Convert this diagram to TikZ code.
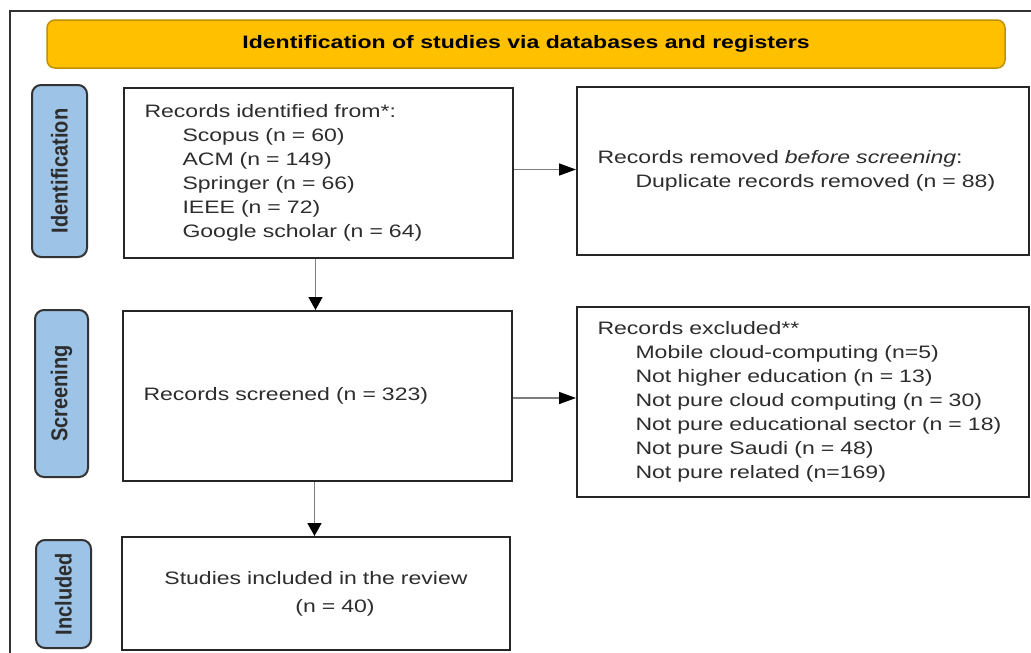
\documentclass[tikz,border=0pt]{standalone}
\usepackage{fontspec}
\usepackage{graphicx}
\setmainfont{Liberation Sans}[FakeStretch=1.28]
\newfontfamily\sidefont{Liberation Sans}
\usetikzlibrary{arrows.meta}
\definecolor{hdryellow}{RGB}{255,192,0}
\definecolor{hdrborder}{RGB}{190,145,0}
\definecolor{sideblue}{RGB}{157,195,230}
\definecolor{arrowgray}{RGB}{125,125,125}
\definecolor{inkgray}{RGB}{45,45,45}
\begin{document}
\begin{tikzpicture}[x=1pt,y=-1pt,
  box/.style={draw=black!85, line width=2pt, inner xsep=20.5pt, inner ysep=0pt,
    align=left, text=inkgray, font=\fontsize{18}{24}\selectfont},
  header/.style={draw=hdrborder, fill=hdryellow, line width=1.5pt, rounded corners=8pt,
    minimum width=958pt, minimum height=48pt, inner sep=0pt,
    font=\bfseries\fontsize{18}{22}\selectfont},
  sidebox/.style={draw=black!80, line width=2pt, fill=sideblue, rounded corners=9pt,
    rotate=90, inner sep=0pt, text=inkgray,
    font=\sidefont\bfseries\fontsize{20}{24}\selectfont},
  hflow/.style={draw=arrowgray, line width=1.5pt,
    -{Triangle[length=17pt,width=12pt,color=black]}},
  vflow/.style={draw=arrowgray, line width=1.5pt,
    -{Triangle[length=13pt,width=14pt,color=black]}}
]
\useasboundingbox (0,0) rectangle (1031,653);
\clip (0,0) rectangle (1031,653);
\fill[white] (0,0) rectangle (1031,653);
\draw[draw=black!80, line width=1.5pt] (10,11) rectangle (1050,680);

\node[header] (hdr) at (526,44) {Identification of studies via databases and registers};

\node[sidebox, minimum width=172pt, minimum height=55pt] (sid) at (59.5,171)
  {\scalebox{1}[1.15]{Identification}};
\node[sidebox, minimum width=167pt, minimum height=53pt] (sscr) at (61.5,393.5)
  {\scalebox{1}[1.15]{Screening}};
\node[sidebox, minimum width=108pt, minimum height=55pt] (sinc) at (63.5,594)
  {\scalebox{1}[1.15]{Included}};

\node[box, minimum width=389pt, minimum height=170pt, text width=348pt] (ident) at (318.5,172.5)
  {Records identified from*:\\
   \hspace*{38pt}Scopus (n = 60)\\
   \hspace*{38pt}ACM (n = 149)\\
   \hspace*{38pt}Springer (n = 66)\\
   \hspace*{38pt}IEEE (n = 72)\\
   \hspace*{38pt}Google scholar (n = 64)};

\node[box, minimum width=452pt, minimum height=168pt, text width=411pt] (removed) at (803,171)
  {Records removed \textit{before screening}:\\
   \hspace*{38pt}Duplicate records removed (n = 88)};

\node[box, minimum width=389pt, minimum height=170pt, text width=348pt] (screened) at (317.5,396)
  {Records screened (n = 323)};

\node[box, minimum width=452pt, minimum height=190pt, text width=411pt] (excluded) at (803,402)
  {Records excluded**\\
   \hspace*{38pt}Mobile cloud-computing (n=5)\\
   \hspace*{38pt}Not higher education (n = 13)\\
   \hspace*{38pt}Not pure cloud computing (n = 30)\\
   \hspace*{38pt}Not pure educational sector (n = 18)\\
   \hspace*{38pt}Not pure Saudi (n = 48)\\
   \hspace*{38pt}Not pure related (n=169)};

\node[box, minimum width=388pt, minimum height=113pt, text width=347pt, align=center,
  font=\fontsize{18}{28}\selectfont] (included) at (316,593.5)
  {Studies included in the review\\
   \hspace*{38pt}(n = 40)};

\draw[hflow] ([yshift=3pt]ident.east) -- ([yshift=3pt]ident.east -| removed.west);
\draw[hflow] ([yshift=-2pt]screened.east) -- ([yshift=-2pt]screened.east -| excluded.west);
\draw[vflow] ([xshift=-3pt]ident.south) -- ([xshift=-3pt]ident.south |- screened.north);
\draw[vflow] ([xshift=-3pt]screened.south) -- ([xshift=-3pt]screened.south |- included.north);
\end{tikzpicture}
\end{document}
